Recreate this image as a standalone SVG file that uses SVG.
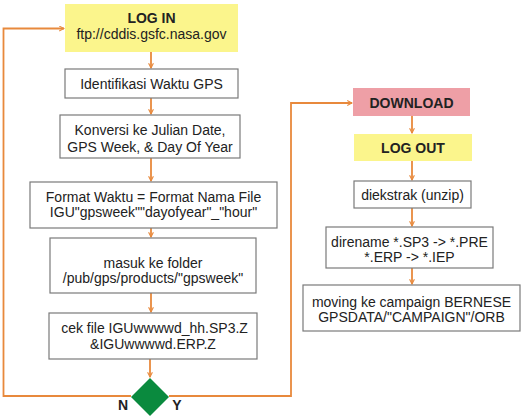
<svg xmlns="http://www.w3.org/2000/svg" width="521" height="420" viewBox="0 0 521 420">
  <defs>
    <marker id="chev" viewBox="0 0 10 10" refX="9" refY="5" markerWidth="6" markerHeight="6" markerUnits="userSpaceOnUse" orient="auto">
      <polyline points="1,1 9,5 1,9" fill="none" stroke="#E8893C" stroke-width="1.8"/>
    </marker>
  </defs>
  <style>
    .box { fill: #ffffff; stroke: #7a7a7a; stroke-width: 1.2; }
    .yellow { fill: #FBF58C; }
    .pink { fill: #EE9FA6; }
    .t { font-family: "Liberation Sans", Arial, sans-serif; font-size: 14px; fill: #222222; text-anchor: middle; }
    .b { font-weight: bold; }
    .line { fill: none; stroke: #E8893C; stroke-width: 1.8; }
  </style>
  <rect width="521" height="420" fill="#ffffff"/>

  <g id="connectors">
    <line class="line" x1="151" y1="52" x2="151" y2="68" marker-end="url(#chev)"/>
    <line class="line" x1="151" y1="98" x2="151" y2="114" marker-end="url(#chev)"/>
    <line class="line" x1="151" y1="158" x2="151" y2="181" marker-end="url(#chev)"/>
    <line class="line" x1="151" y1="228" x2="151" y2="237" marker-end="url(#chev)"/>
    <line class="line" x1="151" y1="293" x2="151" y2="312" marker-end="url(#chev)"/>
    <line class="line" x1="150" y1="359" x2="150" y2="377" marker-end="url(#chev)"/>
    <!-- N branch back to login -->
    <polyline class="line" points="131,396 3.5,396 3.5,28.5 64,28.5" marker-end="url(#chev)"/>
    <!-- Y branch to download -->
    <polyline class="line" points="169,396 291,396 291,103 352,103" marker-end="url(#chev)"/>
    <line class="line" x1="412" y1="116" x2="412" y2="133" marker-end="url(#chev)"/>
    <line class="line" x1="412" y1="161" x2="412" y2="180" marker-end="url(#chev)"/>
    <line class="line" x1="412" y1="208" x2="412" y2="226" marker-end="url(#chev)"/>
    <line class="line" x1="412" y1="268" x2="412" y2="284" marker-end="url(#chev)"/>
  </g>

  <g id="login">
    <rect class="yellow" x="65" y="4" width="173" height="48"/>
    <text class="t b" x="151.5" y="23">LOG IN</text>
    <text class="t" x="151.5" y="38.5">ftp://cddis.gsfc.nasa.gov</text>
  </g>

  <g id="identifikasi">
    <rect class="box" x="65" y="69" width="173" height="29"/>
    <text class="t" x="151.5" y="89">Identifikasi Waktu GPS</text>
  </g>

  <g id="konversi">
    <rect class="box" x="60" y="115" width="180" height="43"/>
    <text class="t" x="150" y="135">Konversi ke Julian Date,</text>
    <text class="t" x="150" y="152">GPS Week, &amp; Day Of Year</text>
  </g>

  <g id="format">
    <rect class="box" x="30" y="182" width="247" height="46"/>
    <text class="t" x="153.5" y="202">Format Waktu = Format Nama File</text>
    <text class="t" x="153.5" y="217">IGU"gpsweek""dayofyear"_"hour"</text>
  </g>

  <g id="folder">
    <rect class="box" x="50" y="238" width="206" height="55"/>
    <text class="t" x="153" y="268">masuk ke folder</text>
    <text class="t" x="153" y="283">/pub/gps/products/"gpsweek"</text>
  </g>

  <g id="cekfile">
    <rect class="box" x="49" y="313" width="208" height="46"/>
    <text class="t" x="154.5" y="333">cek file IGUwwwwd_hh.SP3.Z</text>
    <text class="t" x="153" y="348.5">&amp;IGUwwwwd.ERP.Z</text>
  </g>

  <g id="decision">
    <polygon points="150,378 169,397 150,416 131,397" fill="#0A8A3E"/>
    <text class="t b" x="123" y="410">N</text>
    <text class="t b" x="177" y="410">Y</text>
  </g>

  <g id="download">
    <rect class="pink" x="353" y="88" width="117" height="28"/>
    <text class="t b" x="411.5" y="108">DOWNLOAD</text>
  </g>

  <g id="logout">
    <rect class="yellow" x="354" y="134" width="118" height="27"/>
    <text class="t b" x="413" y="153">LOG OUT</text>
  </g>

  <g id="unzip">
    <rect class="box" x="354" y="181" width="117" height="27"/>
    <text class="t" x="412.5" y="200">diekstrak (unzip)</text>
  </g>

  <g id="rename">
    <rect class="box" x="326" y="227" width="167" height="41"/>
    <text class="t" x="409.5" y="247">direname *.SP3 -&gt; *.PRE</text>
    <text class="t" x="409.5" y="262">*.ERP -&gt; *.IEP</text>
  </g>

  <g id="moving">
    <rect class="box" x="303" y="285" width="217" height="46"/>
    <text class="t" x="411.5" y="307">moving ke campaign BERNESE</text>
    <text class="t" x="411.5" y="322">GPSDATA/"CAMPAIGN"/ORB</text>
  </g>
</svg>
